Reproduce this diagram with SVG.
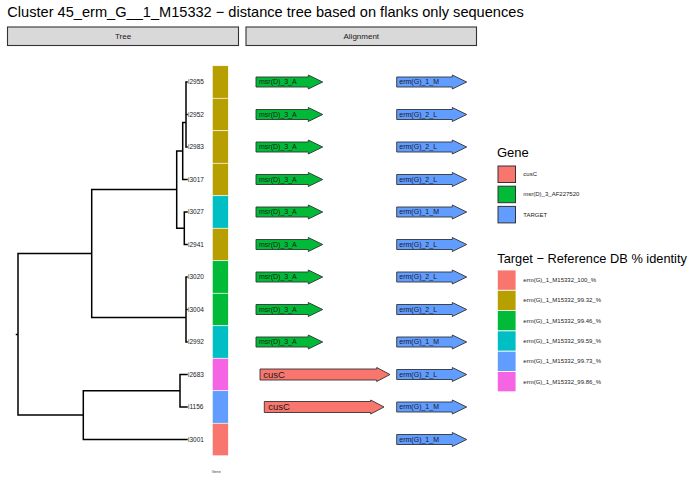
<svg xmlns="http://www.w3.org/2000/svg" width="700" height="495" viewBox="0 0 700 495">
<style>
text{font-family:"Liberation Sans",Arial,sans-serif}
.title{font-size:14.6px;fill:#000}
.strip{fill:#D9D9D9;stroke:#333;stroke-width:1.1}
.stxt{font-size:8px;fill:#1A1A1A;text-anchor:middle}
.br{fill:none;stroke:#000;stroke-width:1.5;stroke-linecap:square}
.tip{font-size:6.5px;fill:#1A1A1A}
.tile{stroke:#fff;stroke-width:0.6}
.arr{stroke:#333;stroke-width:0.9}
.g{fill:#00BA38}
.b{fill:#619CFF}
.r{fill:#F8766D}
.o{fill:#B79F00}
.c{fill:#00BFC4}
.m{fill:#F564E3}
.lab{font-size:7px;fill:#1A1A1A}
.big{font-size:9.5px;fill:#1A1A1A}
.lt{font-size:13px;fill:#000}
.lk{stroke:#333;stroke-width:1}
.lk2{stroke:#fff;stroke-width:0.8}
.ll{font-size:6px;fill:#1A1A1A}
</style>
<rect width="700" height="495" fill="#fff"/>
<text class="title" x="7.3" y="16.8">Cluster 45_erm_G__1_M15332 − distance tree based on flanks only sequences</text>
<g id="strip-tree"><rect class="strip" x="7.5" y="27" width="231" height="18.5"/><text class="stxt" x="123" y="39">Tree</text></g>
<g id="strip-alignment"><rect class="strip" x="246" y="27" width="230.5" height="18.5"/><text class="stxt" x="361.3" y="39">Alignment</text></g>

<g id="connectors">
<path class="br" d="M186,82 V147 M182.7,122.6 H186 M182.7,122.6 V179.5 H187 M176.7,151 H182.7 M184.3,212 V244.5 M184.3,212 H187 M184.3,244.5 H187 M176.7,228.3 H184.3 M176.7,151 V228.3 M91.7,189.6 H176.7 M186,277 V342 M91.7,317.6 H186 M91.7,189.6 V317.6 M18,253.6 H91.7 M180,374.5 V407 M180,374.5 H187 M180,407 H187 M83.3,390.8 H180 M83.3,439.5 H187 M83.3,390.8 V439.5 M18,415.1 H83.3 M18,253.6 V415.1 M16.5,334.4 H18 M186,82 H187 M186,114.5 H187 M186,147 H187 M186,277 H187 M186,309.5 H187 M186,342 H187"/>
</g>

<g id="tips">
<text class="tip" x="188" y="84.3">i2955</text>
<text class="tip" x="188" y="116.8">i2952</text>
<text class="tip" x="188" y="149.3">i2983</text>
<text class="tip" x="188" y="181.8">i3017</text>
<text class="tip" x="188" y="214.3">i3027</text>
<text class="tip" x="188" y="246.8">i2941</text>
<text class="tip" x="188" y="279.3">i3020</text>
<text class="tip" x="188" y="311.8">i3004</text>
<text class="tip" x="188" y="344.3">i2992</text>
<text class="tip" x="188" y="376.8">i2683</text>
<text class="tip" x="188" y="409.3">i1156</text>
<text class="tip" x="188" y="441.8">i3001</text>
</g>

<g id="tiles">
<rect class="tile o" x="212.3" y="65.75" width="16" height="32.5"/>
<rect class="tile o" x="212.3" y="98.25" width="16" height="32.5"/>
<rect class="tile o" x="212.3" y="130.75" width="16" height="32.5"/>
<rect class="tile o" x="212.3" y="163.25" width="16" height="32.5"/>
<rect class="tile c" x="212.3" y="195.75" width="16" height="32.5"/>
<rect class="tile o" x="212.3" y="228.25" width="16" height="32.5"/>
<rect class="tile g" x="212.3" y="260.75" width="16" height="32.5"/>
<rect class="tile g" x="212.3" y="293.25" width="16" height="32.5"/>
<rect class="tile c" x="212.3" y="325.75" width="16" height="32.5"/>
<rect class="tile m" x="212.3" y="358.25" width="16" height="32.5"/>
<rect class="tile b" x="212.3" y="390.75" width="16" height="32.5"/>
<rect class="tile r" x="212.3" y="423.25" width="16" height="32.5"/>
<text x="216.2" y="472.5" style="font-size:3.7px;fill:#333;text-anchor:middle">Gene</text>
</g>

<g id="genes-msr">
<polygon class="arr g" points="256,77 308.3,77 308.3,75 322.7,82 308.3,89 308.3,87 256,87"/>
<text class="lab" x="259" y="84.4">msr(D)_3_A</text>
<polygon class="arr g" points="256,109.5 308.3,109.5 308.3,107.5 322.7,114.5 308.3,121.5 308.3,119.5 256,119.5"/>
<text class="lab" x="259" y="116.9">msr(D)_3_A</text>
<polygon class="arr g" points="256,142 308.3,142 308.3,140 322.7,147 308.3,154 308.3,152 256,152"/>
<text class="lab" x="259" y="149.4">msr(D)_3_A</text>
<polygon class="arr g" points="256,174.5 308.3,174.5 308.3,172.5 322.7,179.5 308.3,186.5 308.3,184.5 256,184.5"/>
<text class="lab" x="259" y="181.9">msr(D)_3_A</text>
<polygon class="arr g" points="256,207 308.3,207 308.3,205 322.7,212 308.3,219 308.3,217 256,217"/>
<text class="lab" x="259" y="214.4">msr(D)_3_A</text>
<polygon class="arr g" points="256,239.5 308.3,239.5 308.3,237.5 322.7,244.5 308.3,251.5 308.3,249.5 256,249.5"/>
<text class="lab" x="259" y="246.9">msr(D)_3_A</text>
<polygon class="arr g" points="256,272 308.3,272 308.3,270 322.7,277 308.3,284 308.3,282 256,282"/>
<text class="lab" x="259" y="279.4">msr(D)_3_A</text>
<polygon class="arr g" points="256,304.5 308.3,304.5 308.3,302.5 322.7,309.5 308.3,316.5 308.3,314.5 256,314.5"/>
<text class="lab" x="259" y="311.9">msr(D)_3_A</text>
<polygon class="arr g" points="256,337 308.3,337 308.3,335 322.7,342 308.3,349 308.3,347 256,347"/>
<text class="lab" x="259" y="344.4">msr(D)_3_A</text>
</g>

<g id="genes-cusC">
<polygon class="arr r" points="260,369 376.7,369 376.7,367.5 390,374.5 376.7,381.5 376.7,380 260,380"/>
<text class="big" x="263.3" y="377.9">cusC</text>
<polygon class="arr r" points="264.3,401.5 370.7,401.5 370.7,400 384,407 370.7,414 370.7,412.5 264.3,412.5"/>
<text class="big" x="268.3" y="410.4">cusC</text>
</g>

<g id="genes-target">
<polygon class="arr b" points="396.7,77 452.3,77 452.3,75 466.7,82 452.3,89 452.3,87 396.7,87"/>
<text class="lab" x="399.3" y="84.4">erm(G)_1_M</text>
<polygon class="arr b" points="396.7,109.5 452.3,109.5 452.3,107.5 466.7,114.5 452.3,121.5 452.3,119.5 396.7,119.5"/>
<text class="lab" x="399.3" y="116.9">erm(G)_2_L</text>
<polygon class="arr b" points="396.7,142 452.3,142 452.3,140 466.7,147 452.3,154 452.3,152 396.7,152"/>
<text class="lab" x="399.3" y="149.4">erm(G)_2_L</text>
<polygon class="arr b" points="396.7,174.5 452.3,174.5 452.3,172.5 466.7,179.5 452.3,186.5 452.3,184.5 396.7,184.5"/>
<text class="lab" x="399.3" y="181.9">erm(G)_2_L</text>
<polygon class="arr b" points="396.7,207 452.3,207 452.3,205 466.7,212 452.3,219 452.3,217 396.7,217"/>
<text class="lab" x="399.3" y="214.4">erm(G)_1_M</text>
<polygon class="arr b" points="396.7,239.5 452.3,239.5 452.3,237.5 466.7,244.5 452.3,251.5 452.3,249.5 396.7,249.5"/>
<text class="lab" x="399.3" y="246.9">erm(G)_2_L</text>
<polygon class="arr b" points="396.7,272 452.3,272 452.3,270 466.7,277 452.3,284 452.3,282 396.7,282"/>
<text class="lab" x="399.3" y="279.4">erm(G)_2_L</text>
<polygon class="arr b" points="396.7,304.5 452.3,304.5 452.3,302.5 466.7,309.5 452.3,316.5 452.3,314.5 396.7,314.5"/>
<text class="lab" x="399.3" y="311.9">erm(G)_2_L</text>
<polygon class="arr b" points="396.7,337 452.3,337 452.3,335 466.7,342 452.3,349 452.3,347 396.7,347"/>
<text class="lab" x="399.3" y="344.4">erm(G)_1_M</text>
<polygon class="arr b" points="396.7,369.5 452.3,369.5 452.3,367.5 466.7,374.5 452.3,381.5 452.3,379.5 396.7,379.5"/>
<text class="lab" x="399.3" y="376.9">erm(G)_2_L</text>
<polygon class="arr b" points="396.7,402 452.3,402 452.3,400 466.7,407 452.3,414 452.3,412 396.7,412"/>
<text class="lab" x="399.3" y="409.4">erm(G)_1_M</text>
<polygon class="arr b" points="396.7,434.5 452.3,434.5 452.3,432.5 466.7,439.5 452.3,446.5 452.3,444.5 396.7,444.5"/>
<text class="lab" x="399.3" y="441.9">erm(G)_1_M</text>
</g>

<g id="legend-gene">
<text class="lt" x="497" y="156.5">Gene</text>
<rect class="lk r" x="498" y="166" width="17.5" height="16.5"/>
<text class="ll" x="523.3" y="175.8">cusC</text>
<rect class="lk g" x="498" y="186.2" width="17.5" height="16.5"/>
<text class="ll" x="523.3" y="196.3">msr(D)_3_AF227520</text>
<rect class="lk b" x="498" y="206.4" width="17.5" height="16.5"/>
<text class="ll" x="523.3" y="217">TARGET</text>
</g>

<g id="legend-identity">
<text class="lt" x="497.3" y="262.5" style="font-size:12.8px">Target − Reference DB % identity</text>
<rect class="lk2 r" x="497.3" y="270" width="18.7" height="20.3"/>
<text class="ll" x="523.3" y="282">erm(G)_1_M15332_100_%</text>
<rect class="lk2 o" x="497.3" y="290.3" width="18.7" height="20.3"/>
<text class="ll" x="523.3" y="302.4">erm(G)_1_M15332_99.32_%</text>
<rect class="lk2 g" x="497.3" y="310.6" width="18.7" height="20.3"/>
<text class="ll" x="523.3" y="322.8">erm(G)_1_M15332_99.46_%</text>
<rect class="lk2 c" x="497.3" y="330.9" width="18.7" height="20.3"/>
<text class="ll" x="523.3" y="343.1">erm(G)_1_M15332_99.59_%</text>
<rect class="lk2 b" x="497.3" y="351.2" width="18.7" height="20.3"/>
<text class="ll" x="523.3" y="363.4">erm(G)_1_M15332_99.73_%</text>
<rect class="lk2 m" x="497.3" y="371.5" width="18.7" height="20.3"/>
<text class="ll" x="523.3" y="383.7">erm(G)_1_M15332_99.86_%</text>
</g>
</svg>
